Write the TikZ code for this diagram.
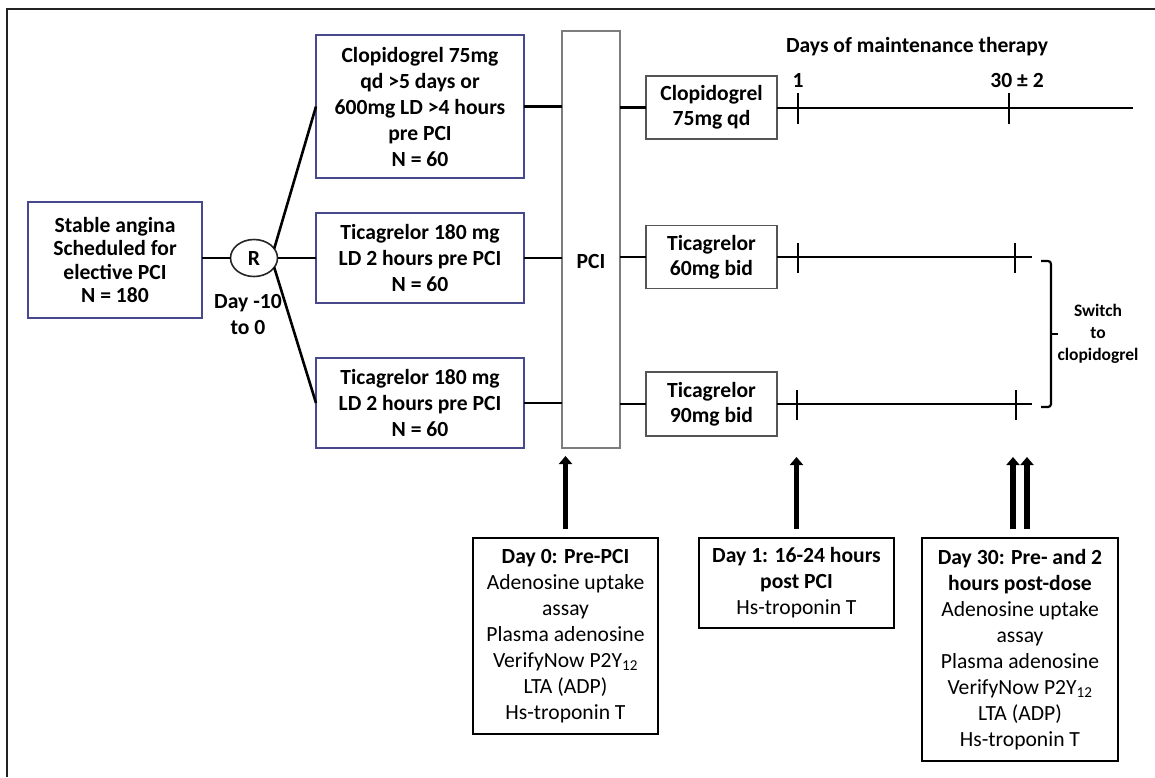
\documentclass[tikz,border=0pt]{standalone}
\usepackage{fontspec}
\setmainfont{Carlito}
\usetikzlibrary{shapes.geometric,arrows.meta}
\definecolor{boxblue}{RGB}{72,72,140}
\definecolor{pcigray}{RGB}{125,125,125}
\definecolor{rgray}{RGB}{85,85,85}
\definecolor{framegray}{RGB}{35,35,35}
\tikzset{
 txt/.style={inner sep=0pt, outer sep=0pt, align=center, font=\bfseries\fontsize{21.6}{26}\selectfont},
 armbox/.style={txt, draw=boxblue, line width=1.9pt},
 rbox/.style={txt, draw=rgray, line width=1.7pt, font=\bfseries\fontsize{21.6}{25}\selectfont},
 mbox/.style={txt, draw=black, line width=2.5pt, font=\fontsize{21.6}{26}\selectfont},
 conn/.style={line width=2.6pt, draw=black},
 tickmark/.style={line width=2.4pt, draw=black},
 bigarrow/.style={line width=5.5pt, draw=black, -{Triangle[length=8pt,width=13pt]}},
 frameline/.style={line width=2.6pt, draw=framegray}
}
\begin{document}
\begin{tikzpicture}[x=1pt,y=-1pt]
\useasboundingbox (0,0) rectangle (1155,777);
\fill[white] (0,0) rectangle (1155,777);
% frame
\coordinate (fbl) at (7,777);
\coordinate (ftl) at (7,9);
\coordinate (ftr) at (1155,9);
\draw[frameline] (fbl) -- (ftl) -- (ftr);

% start
\node[armbox, minimum width=174pt, minimum height=116pt, font=\bfseries\fontsize{21.6}{23.5}\selectfont] (stable) at (115,260) {Stable angina\\Scheduled for\\elective PCI\\N = 180};
\node[txt, draw=black!85, line width=1.6pt, ellipse, minimum width=47pt, minimum height=37pt] (R) at (254,258) {R};
\node[txt] (daylab) at (248,314) {Day -10\\to 0};

% arms
\node[armbox, minimum width=208pt, minimum height=143pt] (arm1) at (420,106.5) {Clopidogrel 75mg\\qd >5 days or\\600mg LD >4 hours\\pre PCI\\N = 60};
\node[armbox, minimum width=208pt, minimum height=90pt] (arm2) at (420,258) {Ticagrelor 180 mg\\LD 2 hours pre PCI\\N = 60};
\node[armbox, minimum width=208pt, minimum height=90pt] (arm3) at (420,403) {Ticagrelor 180 mg\\LD 2 hours pre PCI\\N = 60};

% PCI
\node[txt, draw=pcigray, line width=1.6pt, minimum width=58pt, minimum height=417pt] (pci) at (591,239.5) {};
\node[txt] (pcilab) at (591,261) {PCI};

% maintenance boxes
\node[rbox, minimum width=131pt, minimum height=63pt] (m1) at (711.5,107.5) {Clopidogrel\\75mg qd};
\node[rbox, minimum width=131pt, minimum height=63pt] (m2) at (711.5,257) {Ticagrelor\\60mg bid};
\node[rbox, minimum width=131pt, minimum height=64pt] (m3) at (711.5,404) {Ticagrelor\\90mg bid};

% timeline labels
\node[txt] (dmt) at (917,47) {Days of maintenance therapy};
\node[txt] (d1lab) at (798,80) {1};
\node[txt] (d30lab) at (1017,80) {30 ± 2};
\node[txt, font=\bfseries\fontsize{17.5}{22}\selectfont] (switch) at (1098,334) {Switch\\to\\clopidogrel};

% measurement boxes
\node[mbox, minimum width=185pt, minimum height=196pt] (d0) at (565.5,636) {\textbf{Day 0: Pre-PCI}\\Adenosine uptake\\assay\\Plasma adenosine\\VerifyNow P2Y\textsubscript{12}\\LTA (ADP)\\Hs-troponin T};
\node[mbox, minimum width=195pt, minimum height=90pt] (d1) at (796.5,583) {\textbf{Day 1: 16-24 hours}\\\textbf{post PCI}\\Hs-troponin T};
\node[mbox, minimum width=196pt, minimum height=223pt] (d30) at (1020,649.5) {\textbf{Day 30: Pre- and 2}\\\textbf{hours post-dose}\\Adenosine uptake\\assay\\Plasma adenosine\\VerifyNow P2Y\textsubscript{12}\\LTA (ADP)\\Hs-troponin T};

% connectors: randomisation
\draw[conn] (stable.east |- R.west) -- (R.west);
\draw[conn] (R.25) -- (arm1.west);
\draw[conn] (R.east) -- (arm2.west);
\draw[conn] (R.-25) -- (arm3.west);

% arms to PCI
\draw[conn] (arm1.east) -- (arm1.east -| pci.west);
\draw[conn] (arm2.east) -- (arm2.east -| pci.west);
\draw[conn] (arm3.east) -- (arm3.east -| pci.west);

% PCI to maintenance
\draw[conn] (m1.west -| pci.east) -- (m1.west);
\draw[conn] (m2.west -| pci.east) -- (m2.west);
\draw[conn] (m3.west -| pci.east) -- (m3.west);

% timelines
\coordinate (end1) at (1133,108);
\coordinate (end2) at (1032,257);
\coordinate (end3) at (1032,404);
\draw[conn] (m1.east |- end1) -- (end1);
\draw[conn] (m2.east) -- (end2);
\draw[conn] (m3.east) -- (end3);

% ticks
\draw[tickmark] (798,93) -- (798,124);
\draw[tickmark] (1009,93) -- (1009,124);
\draw[tickmark] (798,243) -- (798,273);
\draw[tickmark] (1015,243) -- (1015,273);
\draw[tickmark] (797,390) -- (797,420);
\draw[tickmark] (1016,390) -- (1016,420);

% bracket
\coordinate (bt) at (1041,261);
\coordinate (bb) at (1041,407);
\draw[conn, line width=2.2pt, rounded corners=3pt] (bt) -- (1051,261) -- (1051,407) -- (bb);
\draw[conn, line width=2.2pt] (1051,334) -- (1058,334);

% measurement arrows
\coordinate (a0) at (565.5,456);
\coordinate (a1) at (796.5,457);
\coordinate (a30a) at (1013,457);
\coordinate (a30b) at (1027,457);
\draw[bigarrow, shorten <=9pt] (d0.north) -- (a0);
\draw[bigarrow, shorten <=9pt] (d1.north) -- (a1);
\draw[bigarrow, shorten <=9pt] (d30.north -| a30a) -- (a30a);
\draw[bigarrow, shorten <=9pt] (d30.north -| a30b) -- (a30b);
\end{tikzpicture}
\end{document}
